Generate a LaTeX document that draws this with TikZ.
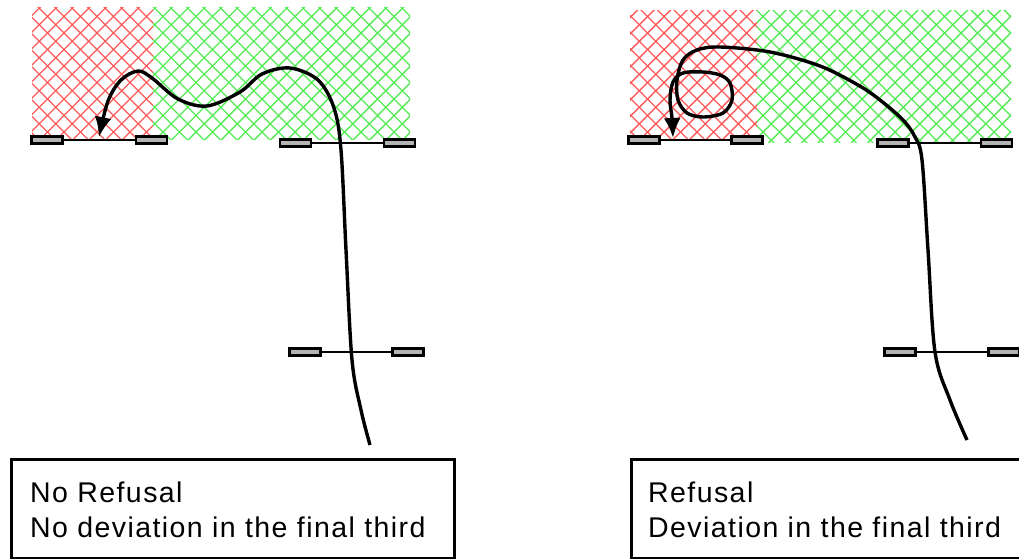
\documentclass[tikz,border=0pt]{standalone}
\usepackage{fontspec}
\setmainfont{Liberation Sans}[LetterSpace=5]
\usetikzlibrary{arrows.meta}
\definecolor{hred}{RGB}{255,90,90}
\definecolor{hgreen}{RGB}{85,235,85}
\definecolor{bargray}{RGB}{180,180,180}
\tikzset{
  barrect/.style={draw=black, line width=2.6pt, fill=bargray, minimum width=31pt, minimum height=7pt, inner sep=0pt},
  barline/.style={line width=2.5pt},
  path/.style={line width=3.4pt, -{Latex[length=20pt,width=17pt]}},
  textbox/.style={draw=black, line width=2.6pt, inner sep=0pt, anchor=north west},
  label/.style={anchor=north west, align=left, inner sep=0pt, font=\fontsize{28.5}{35}\selectfont},
  hatch/.style={line width=1.4pt}
}
\begin{document}
\begin{tikzpicture}[x=1pt,y=-1pt]
\useasboundingbox (0,0) rectangle (1019,558);
% hatching
\begin{scope}
\clip (32,7) rectangle (153,139);
\foreach \c in {-200,-183.5,...,600} {\draw[hatch,hred] (\c,0) -- ++(200,200); \draw[hatch,hred] (\c,0) -- ++(-200,200);}
\end{scope}
\begin{scope}
\clip (153,7) rectangle (410,139);
\foreach \c in {-200,-183.5,...,800} {\draw[hatch,hgreen] (\c,0) -- ++(200,200); \draw[hatch,hgreen] (\c,0) -- ++(-200,200);}
\end{scope}
\begin{scope}
\clip (630,10) rectangle (757,139);
\foreach \c in {400,416.5,...,1200} {\draw[hatch,hred] (\c,0) -- ++(200,200); \draw[hatch,hred] (\c,0) -- ++(-200,200);}
\end{scope}
\begin{scope}
\clip (757,10) rectangle (1011,142);
\foreach \c in {400,416.5,...,1300} {\draw[hatch,hgreen] (\c,0) -- ++(200,200); \draw[hatch,hgreen] (\c,0) -- ++(-200,200);}
\end{scope}
% left panel bars
\node[barrect] (la1) at (47,140) {};
\node[barrect] (la2) at (151.5,140) {};
\draw[barline] (la1.east) -- (la2.west);
\node[barrect] (lb1) at (295.5,143) {};
\node[barrect] (lb2) at (399.5,143) {};
\draw[barline] (lb1.east) -- (lb2.west);
\node[barrect] (lc1) at (305,352) {};
\node[barrect] (lc2) at (408,352) {};
\draw[barline] (lc1.east) -- (lc2.west);
% right panel bars
\node[barrect] (ra1) at (644,140) {};
\node[barrect] (ra2) at (747,140) {};
\draw[barline] (ra1.east) -- (ra2.west);
\node[barrect] (rb1) at (893,143) {};
\node[barrect] (rb2) at (996.5,143) {};
\draw[barline] (rb1.east) -- (rb2.west);
\node[barrect] (rc1) at (900,352) {};
\node[barrect] (rc2) at (1004,352) {};
\draw[barline] (rc1.east) -- (rc2.west);
% paths
\coordinate (ls) at (370,445);
\coordinate (le) at (99,137);
\draw[path] plot[smooth, tension=0.55] coordinates {(ls) (361,410) (352,360) (346,250) (341,150) (334,108) (318,80) (290,68) (262,74) (240,92) (207,106) (178,99) (152,78) (138,71) (121,80) (108,101) (le)};
\coordinate (rs) at (967,440);
\coordinate (re) at (673,138);
\draw[path] plot[smooth, tension=0.55] coordinates {(rs) (950,400) (935,352) (928,250) (922,160) (915,137) (903,120) (880,100) (858,85) (820,66) (770,52) (720,47) (697,50) (683,60) (677,80) (678,100) (687,113) (703,117) (723,113) (732,100) (730,83) (720,75) (703,72) (683,73) (673,82) (670,100) (672,118) (re)};
% text boxes
\node[textbox, minimum width=443pt, minimum height=99pt] (lbox) at (10,458) {};
\node[label] (ltext) at (30,482) {No Refusal\\No deviation in the final third};
\node[textbox, minimum width=420pt, minimum height=99pt] (rbox) at (630,458) {};
\node[label] (rtext) at (648,482) {Refusal\\Deviation in the final third};
\end{tikzpicture}
\end{document}
